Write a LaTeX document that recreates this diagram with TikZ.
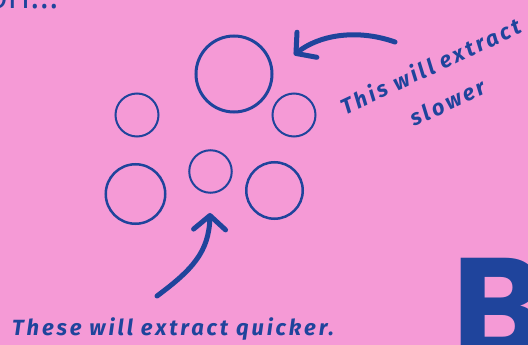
\documentclass[tikz,border=0pt]{standalone}
\usepackage{fontspec}
\setmainfont{Fira Sans}
\newfontfamily\notefont[LetterSpace=13]{Fira Sans}
\newfontfamily\topfont{Open Sans}
\newfontfamily\letterfont{Poppins}
\usetikzlibrary{arrows.meta}
\definecolor{fpink}{HTML}{F59AD6}
\definecolor{fblue}{HTML}{1F449C}
\tikzset{
  grain/.style = {draw=fblue, circle, inner sep=0pt},
  note/.style  = {text=fblue, inner sep=0pt,
                  font=\notefont\bfseries\itshape\fontsize{22}{40}\selectfont},
  brush/.style = {draw=fblue, line width=5pt, line cap=round,
                  -{Straight Barb[length=14pt,width=32pt,line width=5pt,round]}},
}

\begin{document}
\begin{tikzpicture}[x=1pt,y=-1pt]
\useasboundingbox (0,0) rectangle (528,345);
\clip (0,0) rectangle (528,345);
\fill[fpink] (0,0) rectangle (528,345);
% heading left over from the slide above
\node[anchor=base west, inner sep=0pt, text=fblue,
      font=\topfont\fontsize{36}{36}\selectfont] (head) at (-14,9) {on...};
% grounds
\node[grain, line width=3pt,   minimum size=76pt]   (big)      at (234,74)  {};
\node[grain, line width=2pt,   minimum size=43pt]   (left)     at (137,115) {};
\node[grain, line width=2pt,   minimum size=43pt]   (right)    at (294,115) {};
\node[grain, line width=2pt,   minimum size=42.5pt] (mid)      at (210.5,171.5) {};
\node[grain, line width=2.5pt, minimum size=59.5pt] (lowleft)  at (135.5,194) {};
\node[grain, line width=2.5pt, minimum size=56.5pt] (lowright) at (274.5,190.5) {};
% arrows
\coordinate (tailA) at (395,42);
\coordinate (tipA)  at (294,55);
\coordinate (tailB) at (157,296);
\coordinate (tipB)  at (210,213);
\draw[brush] (tailA) .. controls (355,28) and (318,36) .. (tipA);
\draw[brush] (tailB) .. controls (192,270) and (209,252) .. (tipB);
% labels
\node[note, anchor=base west] (quick) at (12,335) {These will extract quicker.};
\node[note, align=center, rotate=25] (slow) at (439,84) {This will extract\\slower};
\node[anchor=base west, inner sep=0pt, text=fblue,
      font=\letterfont\bfseries\fontsize{140}{140}\selectfont] (letter) at (452,356) {B};
\end{tikzpicture}
\end{document}
